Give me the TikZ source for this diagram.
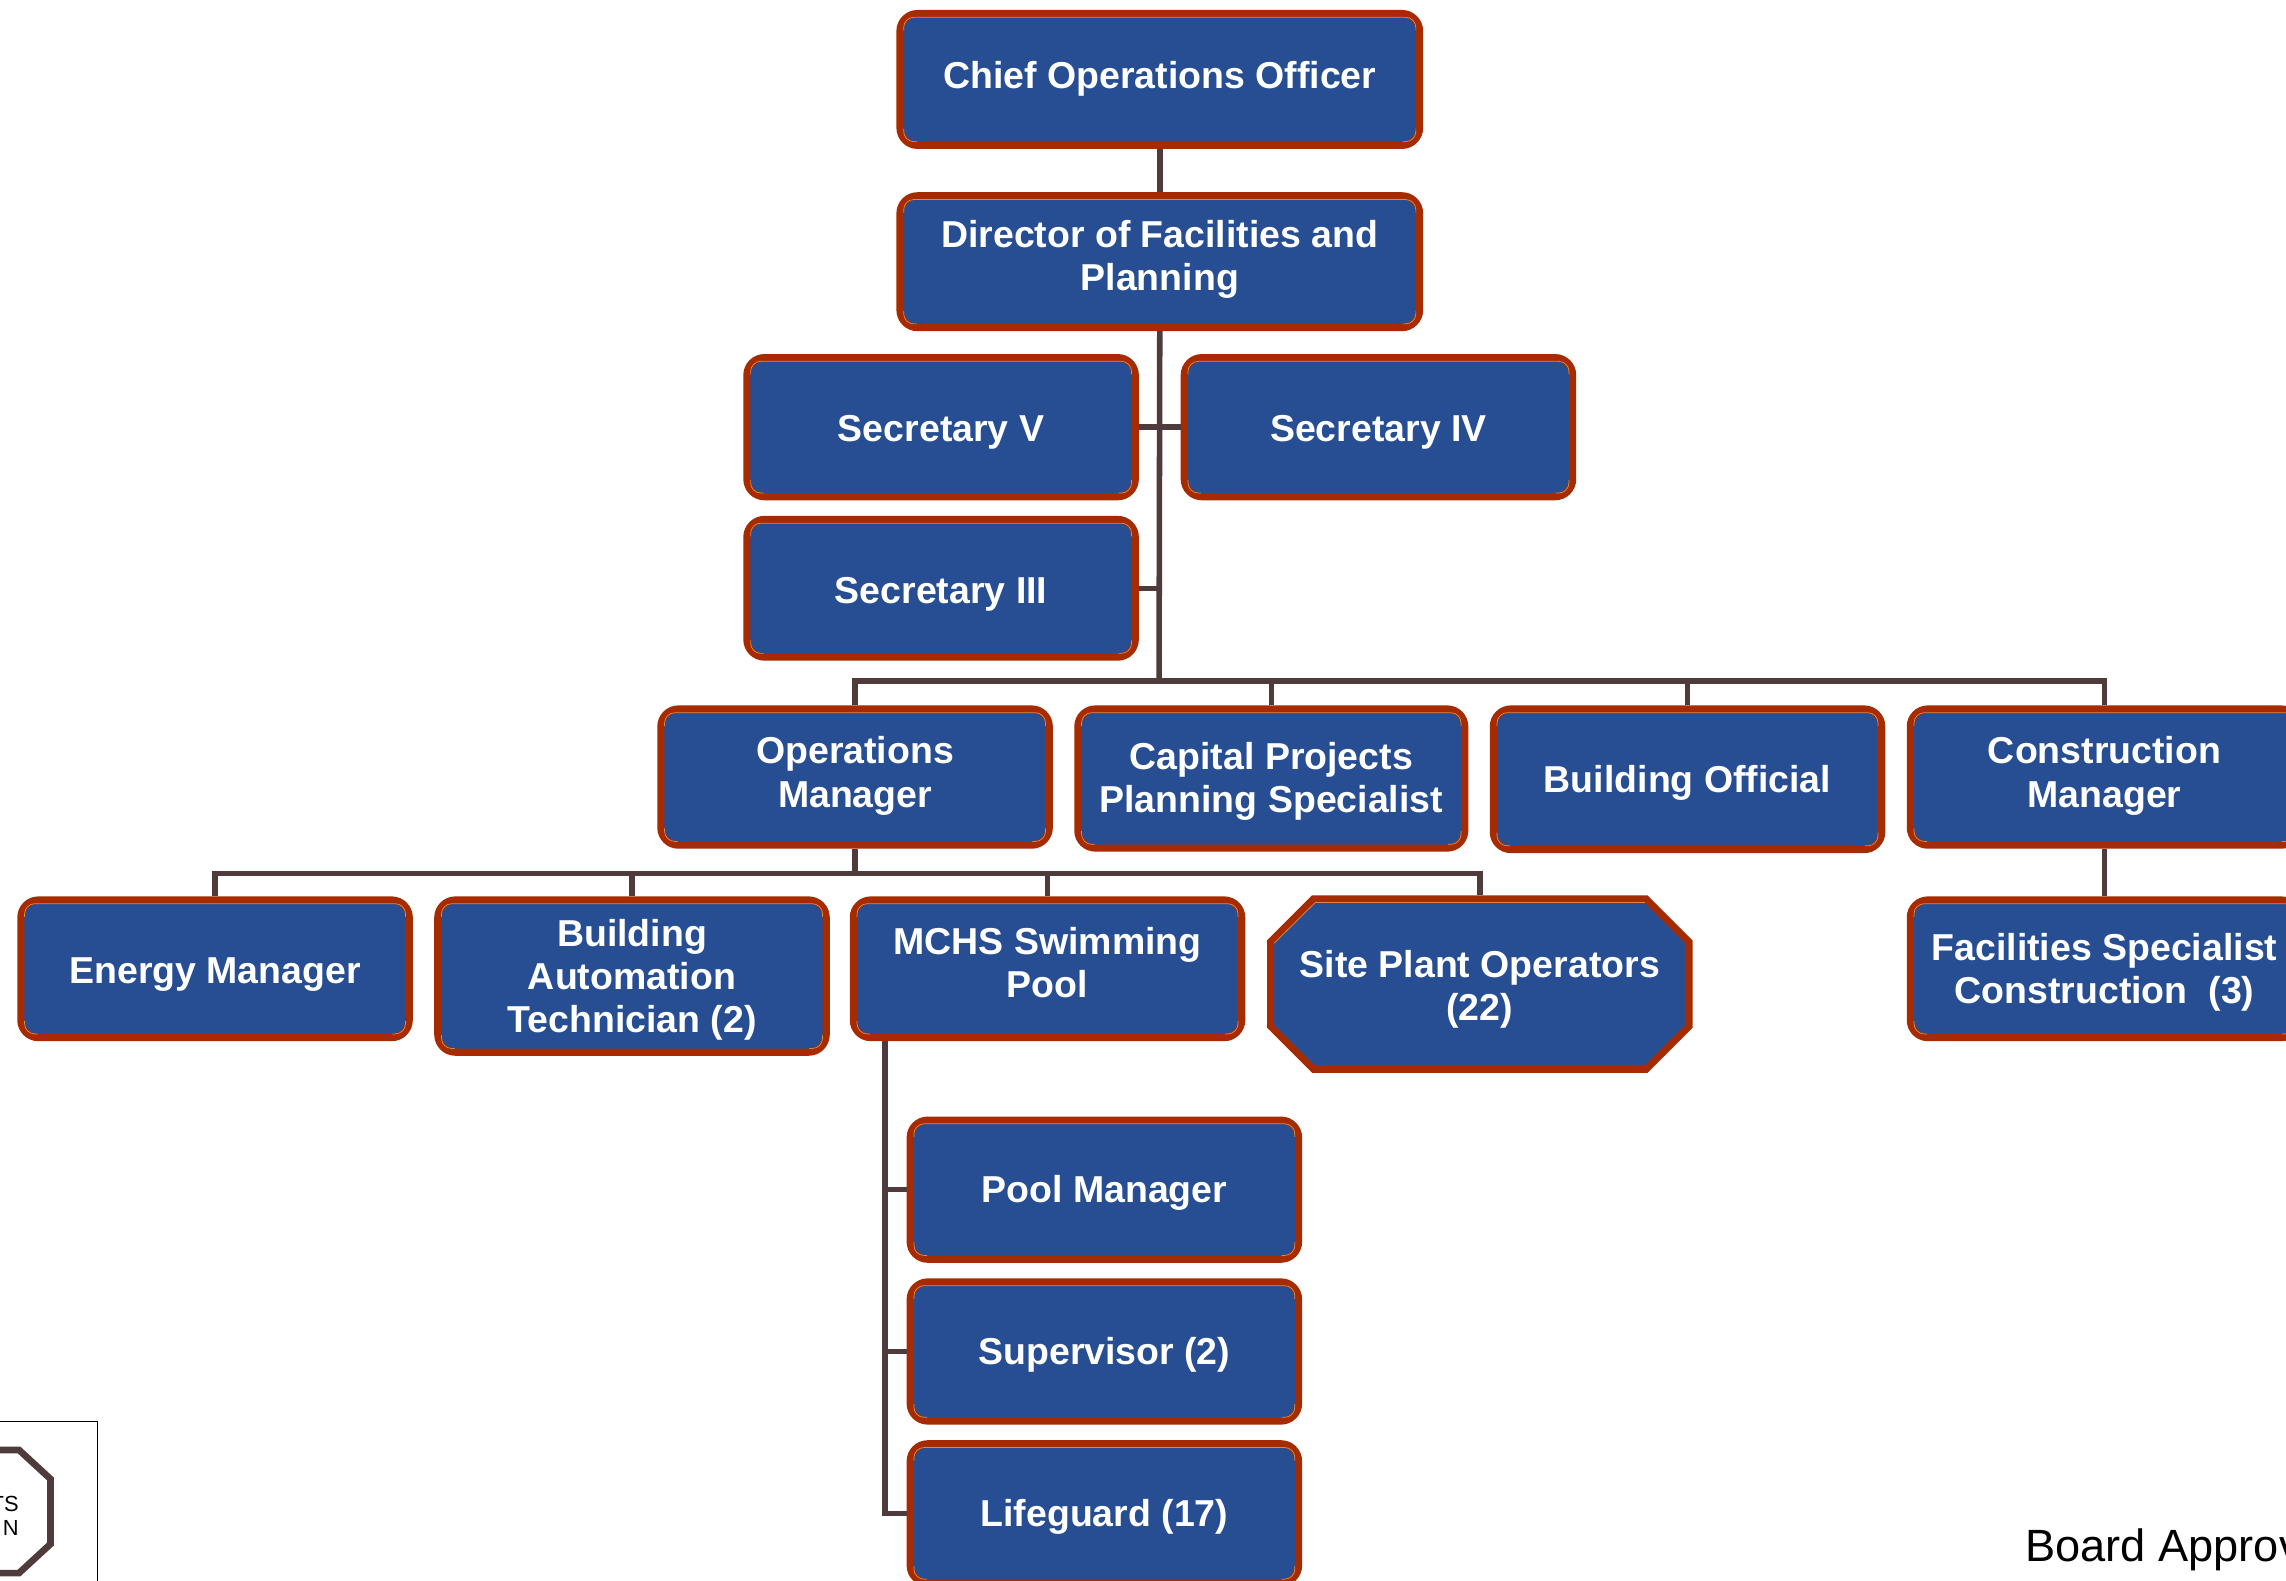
\documentclass[tikz,border=0pt]{standalone}
\usepackage{fontspec}
\setmainfont{Liberation Sans}
\usetikzlibrary{calc}
\definecolor{boxfill}{HTML}{274E93}
\definecolor{boxedge}{HTML}{A62B00}
\definecolor{boxglow}{HTML}{E08A3C}
\definecolor{wire}{HTML}{4F3A3C}
\tikzset{
  x=1pt,y=-1pt,
  orgtext/.style={inner sep=0pt,text=white,font=\fontsize{25.7}{29.5}\selectfont\bfseries},
  orgrect/.style={orgtext,draw=boxedge,fill=boxfill,line width=4.9pt,rectangle,rounded corners=12pt},
  orgoct/.style={draw=boxedge,fill=boxfill,line width=4.8pt,line join=miter},
  glow/.style={draw=boxglow,line width=.5pt,rounded corners=7pt},
  conn/.style={draw=wire,line width=3.8pt},
}
% name, x1, y1, x2, y2, text-centre y, text
\newcommand{\orgbox}[7]{%
  \pgfmathsetmacro{\bw}{#4-#2-4.6}\pgfmathsetmacro{\bh}{#5-#3-4.6}%
  \pgfmathsetmacro{\tup}{(#3+#5)/2-#6-9.1}%
  \node[orgrect,minimum width=\bw pt,minimum height=\bh pt] (#1) at ({(#2+#4)/2},{(#3+#5)/2})
    {\raisebox{\tup pt}[0pt][0pt]{\begin{tabular}[c]{@{}c@{}}#7\end{tabular}}};
  \draw[glow] ($(#1.north west)+(5,14)$) -- ($(#1.north west)+(5,5)$) -- ($(#1.north east)+(-5,5)$) -- ($(#1.north east)+(-5,14)$);
  \draw[glow] ($(#1.south west)+(5,-14)$) -- ($(#1.south west)+(5,-5)$) -- ($(#1.south west)+(14,-5)$);
  \draw[glow] ($(#1.south east)+(-5,-14)$) -- ($(#1.south east)+(-5,-5)$) -- ($(#1.south east)+(-14,-5)$);
}
\begin{document}
\begin{tikzpicture}
\useasboundingbox (0,0) rectangle (1568,1084.4);
\orgbox{coo}{615}{7}{976}{102}{52}{Chief Operations Officer}
\orgbox{dir}{615}{132}{976}{227}{176}{Director of Facilities and\\Planning}
\orgbox{secv}{510}{243}{781}{343}{294}{Secretary V}
\orgbox{seciv}{810}{243}{1081}{343}{294}{Secretary IV}
\orgbox{seciii}{510}{354}{781}{453}{405}{Secretary III}
\orgbox{ops}{451}{484}{722}{582}{530}{Operations\\Manager}
\orgbox{cap}{737}{484}{1007}{584}{534}{Capital Projects\\Planning Specialist}
\orgbox{bo}{1022}{484}{1293}{585}{535}{Building Official}
\orgbox{cm}{1308}{484}{1579}{582}{530}{Construction\\Manager}
\orgbox{energy}{12}{615}{283}{714}{666}{Energy Manager}
\orgbox{bat}{298}{615}{569}{724}{670}{Building\\Automation\\Technician (2)}
\orgbox{mchs}{583}{615}{854}{714}{661}{MCHS Swimming\\Pool}
\orgbox{fac}{1308}{615}{1579}{714}{665}{Facilities Specialist\\Construction~~(3)}
\orgbox{pool}{622}{766}{893}{866}{816}{Pool Manager}
\orgbox{sup}{622}{877}{893}{977}{927}{Supervisor (2)}
\orgbox{life}{622}{988}{893}{1088}{1038}{Lifeguard (17)}
% octagonal Site Plant Operators box
\draw[orgoct] (901,616.5) -- (1129,616.5) -- (1158.5,646) -- (1158.5,704) -- (1129,733.5)
  -- (901,733.5) -- (871.5,704) -- (871.5,646) -- cycle;
\draw[draw=boxglow,line width=.5pt] (902,619.2) -- (1128,619.2);
\draw[draw=boxglow,line width=.5pt] (873.9,647) -- (902,619.2);
\node[orgtext] (site) at (1015,679)
  {\begin{tabular}[c]{@{}c@{}}Site Plant Operators\\(22)\end{tabular}};
\coordinate (sitetop) at (1015,614);
% connectors
\coordinate (busA) at (795,467);
\coordinate (busB) at (586.5,599);
\coordinate (pv) at (607,1037);
\draw[conn] (coo.south) -- (dir.north);
\draw[conn] (dir.south) -- (busA);
\draw[conn] (secv.east) -- (seciv.west);
\draw[conn] (seciii.east) -- (seciii.east -| busA);
\draw[conn] (ops.north) |- (busA) -| (cm.north);
\draw[conn] (cap.north) -- (cap.north |- busA);
\draw[conn] (bo.north) -- (bo.north |- busA);
\draw[conn] (ops.south) -- (busB);
\draw[conn] (energy.north) |- (busB) -| (sitetop);
\draw[conn] (bat.north) -- (bat.north |- busB);
\draw[conn] (mchs.north) -- (mchs.north |- busB);
\draw[conn] (cm.south) -- (fac.north);
\draw[conn] (pv |- mchs.south) -- (pv |- life.west) -- (life.west);
\draw[conn] (pool.west) -- (pool.west -| pv);
\draw[conn] (sup.west) -- (sup.west -| pv);
% legend fragment
\coordinate (legA) at (-5,975);
\coordinate (legB) at (67,975);
\coordinate (legC) at (67,1095);
\draw[black,line width=1pt] (legA) -- (legB) -- (legC);
\draw[draw=wire,line width=4.6pt,line join=miter] (-30,994.5) -- (13,994.5) -- (34.7,1014.5) -- (34.7,1059) -- (13,1079) -- (-30,1079);
\node[anchor=east,align=right,inner sep=0pt,font=\fontsize{15}{16.5}\selectfont] (legtext) at (13,1040) {TS\\N};
\node[anchor=base west,inner sep=0pt,font=\fontsize{31}{36}\selectfont] (approved) at (1389,1071) {Board Approv};
\end{tikzpicture}
\end{document}
